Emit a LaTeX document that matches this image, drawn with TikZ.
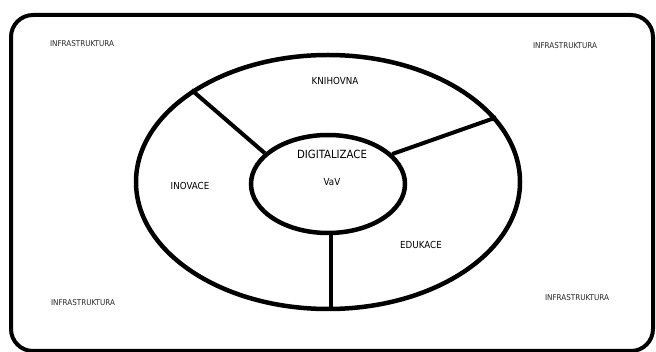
\documentclass[tikz,border=0pt]{standalone}
\usepackage{fontspec}
\setmainfont{DejaVu Sans Condensed}
\usetikzlibrary{shapes.geometric}
\begin{document}
\begin{tikzpicture}[x=1pt,y=-1pt,
  lbl/.style={font=\fontsize{8}{9}\selectfont, text=black!85, inner sep=0pt},
  mid/.style={font=\fontsize{9.7}{10}\selectfont, inner sep=0pt},
  big/.style={font=\fontsize{11.3}{12}\selectfont, inner sep=0pt},
  ring/.style={draw, line width=4.5pt, ellipse, inner sep=0pt},
  spoke/.style={line width=4pt}]
\useasboundingbox (0,0) rectangle (656,352);
\draw[line width=4pt, rounded corners=22pt] (11,15) rectangle (653,351);
\node[ring, minimum width=384pt, minimum height=254pt] (outer) at (328,182) {};
\node[ring, minimum width=154pt, minimum height=98pt] (inner) at (328,184) {};
\coordinate (a3) at (331,309);
\draw[spoke] (outer.146) -- (inner.154);
\draw[spoke] (outer.21) -- (inner.25);
\draw[spoke] (a3) -- (inner.south -| a3);
\node[lbl] (i1) at (82,44) {INFRASTRUKTURA};
\node[lbl] (i2) at (565,46) {INFRASTRUKTURA};
\node[lbl] (i3) at (83,303) {INFRASTRUKTURA};
\node[lbl] (i4) at (577,298) {INFRASTRUKTURA};
\node[mid] (kn) at (335,81) {KNIHOVNA};
\node[big] (dg) at (332,154) {DIGITALIZACE};
\node[mid] (vv) at (332,182) {VaV};
\node[mid] (in) at (190,186) {INOVACE};
\node[mid] (ed) at (421,245) {EDUKACE};
\end{tikzpicture}
\end{document}
